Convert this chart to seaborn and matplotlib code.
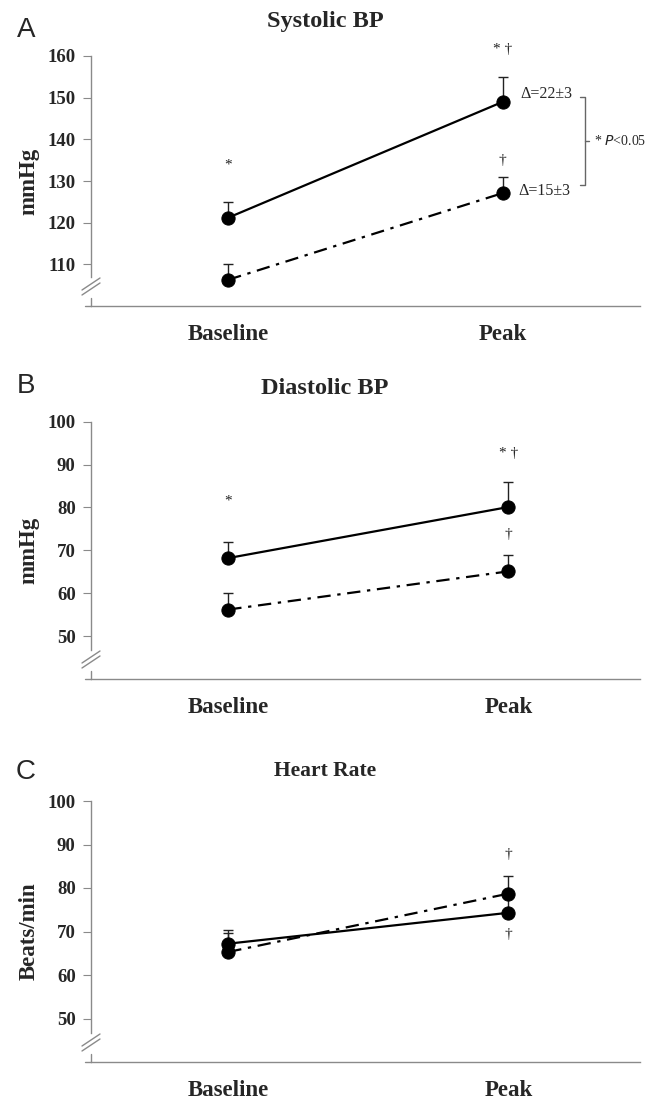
import numpy as np
import pandas as pd
import matplotlib
matplotlib.use("Agg")
import matplotlib.pyplot as plt
import seaborn as sns
from matplotlib.transforms import blended_transform_factory

# ---------------- data ----------------
time_points = ["Baseline", "Peak"]
group_names = ["Group 1", "Group 2"]          # Group 1: solid, Group 2: dash-dot

sbp_g1 = [121.2, 149.0]
sbp_g1_err = [3.8, 6.0]
sbp_g2 = [106.3, 127.1]
sbp_g2_err = [3.7, 3.9]

dbp_g1 = [68.2, 80.1]
dbp_g1_err = [3.8, 5.9]
dbp_g2 = [56.2, 65.1]
dbp_g2_err = [3.8, 3.9]

hr_g1 = [67.2, 74.3]
hr_g1_err = [3.2, 4.0]
hr_g2 = [65.3, 78.7]
hr_g2_err = [4.4, 4.1]

panel_letters = ["A", "B", "C"]
panel_titles = ["Systolic BP", "Diastolic BP", "Heart Rate"]
panel_ylabels = ["mmHg", "mmHg", "Beats/min"]
sbp_ticks = [110, 120, 130, 140, 150, 160]
dbp_ticks = [50, 60, 70, 80, 90, 100]
hr_ticks = [50, 60, 70, 80, 90, 100]

# ---------------- style ----------------
sns.set_style("white")
plt.rcParams["font.family"] = ["Liberation Serif", "DejaVu Serif"]
plt.rcParams["mathtext.fontset"] = "custom"

fig = plt.figure(figsize=(6.47, 11.01), dpi=100)
W, H = 647, 1101

def add_axes_px(left, top, right, bottom):
    return fig.add_axes([left / W, 1 - bottom / H, (right - left) / W, (bottom - top) / H])

axes_px = [
    (91, 56, 640, 306),
    (91, 421.7, 640, 679),
    (91, 801, 640, 1062),
]
ylims = [(100, 160), (40, 100), (40, 100)]
yticks_all = [sbp_ticks, dbp_ticks, hr_ticks]
xlims = [(-0.5, 1.5), (-0.49, 1.47), (-0.49, 1.47)]
title_sizes = [17.5, 17.5, 15.5]
letter_y = [30, 386, 772]
title_y = [22, 388, 771]

datasets = [
    (sbp_g1, sbp_g1_err, sbp_g2, sbp_g2_err),
    (dbp_g1, dbp_g1_err, dbp_g2, dbp_g2_err),
    (hr_g1, hr_g1_err, hr_g2, hr_g2_err),
]

axis_grey = "#8a8a8a"
dashdot = (6, 3, 1.5, 3)

axes = []
for i in range(3):
    ax = add_axes_px(*axes_px[i])
    axes.append(ax)
    g1, e1, g2, e2 = datasets[i]
    df = pd.DataFrame({
        "time": [0, 1, 0, 1],
        "value": list(g1) + list(g2),
        "group": [group_names[0]] * 2 + [group_names[1]] * 2,
    })
    # error bars (upward only)
    for vals, errs in ((g1, e1), (g2, e2)):
        ax.errorbar([0, 1], vals, yerr=[[0, 0], errs], fmt="none",
                    ecolor="#222222", elinewidth=1.0, capsize=3.5, capthick=1.0, zorder=2)
    sns.lineplot(data=df, x="time", y="value", hue="group", style="group",
                 palette=["black", "black"], dashes={group_names[0]: "", group_names[1]: dashdot},
                 markers={group_names[0]: "o", group_names[1]: "o"},
                 markersize=9.5, markeredgecolor="black", linewidth=1.6,
                 legend=False, ax=ax, zorder=3)
    ymin, ymax = ylims[i]
    ax.set_ylim(ymin, ymax)
    ax.set_xlim(*xlims[i])
    ax.set_yticks(yticks_all[i])
    ax.set_yticklabels([str(t) for t in yticks_all[i]], fontsize=13.5, fontweight="bold")
    ax.set_xticks([0, 1])
    ax.set_xticklabels(time_points, fontsize=16.5, fontweight="bold")
    ax.set_xlabel("")
    ax.set_ylabel(panel_ylabels[i], fontsize=16.5, fontweight="bold", labelpad=6)
    for s in ("top", "right"):
        ax.spines[s].set_visible(False)
    for s in ("left", "bottom"):
        ax.spines[s].set_color(axis_grey)
        ax.spines[s].set_linewidth(1.0)
    ax.tick_params(axis="x", direction="in", length=6, color=axis_grey, pad=13)
    ax.tick_params(axis="y", direction="out", length=6, color=axis_grey, pad=5, left=True)
    ax.grid(False)

    # axis break on y axis
    ppu = (axes_px[i][3] - axes_px[i][1]) / (ymax - ymin)   # pixels per unit
    ax.spines["left"].set_bounds(ymin + 29 / ppu, ymax)
    trans = blended_transform_factory(ax.transAxes, ax.transData)
    ax.plot([0, 0], [ymin, ymin + 8 / ppu], transform=trans, color=axis_grey, lw=1.0, clip_on=False)
    dxa = 9 / (axes_px[i][2] - axes_px[i][0])
    for c in (17 / ppu, 22 / ppu):
        ax.plot([-dxa, dxa], [ymin + c - 6 / ppu, ymin + c + 6 / ppu], transform=trans,
                color=axis_grey, lw=1.0, clip_on=False)
    # x axis extends slightly left of y axis
    ax.plot([-6 / (axes_px[i][2] - axes_px[i][0]), 0], [0, 0], transform=ax.transAxes,
            color=axis_grey, lw=1.0, clip_on=False)

    # panel letter and title
    fig.text(26 / W, 1 - letter_y[i] / H, panel_letters[i], fontsize=20,
             family=["Liberation Sans", "DejaVu Sans"], ha="center", va="center")
    fig.text(325 / W, 1 - title_y[i] / H, panel_titles[i], fontsize=title_sizes[i],
             fontweight="bold", ha="center", va="center")

ann = dict(ha="center", va="center", fontsize=11, clip_on=False, color="#222222")
# Panel A annotations
axA, axB, axC = axes
axA.text(0, 133.8, "*", **ann)
axA.text(1, 161.5, "* \u2020", **ann)
axA.text(1, 135.0, "\u2020", **ann)
axA.text(1.065, 150.9, "\u0394=22\u00b13", ha="left", va="center", fontsize=11.5, clip_on=False)
axA.text(1.058, 127.5, "\u0394=15\u00b13", ha="left", va="center", fontsize=11.5, clip_on=False)
bx, bl, br = 1.30, 1.281, 1.314
axA.plot([bl, bx, bx, bl], [150.1, 150.1, 129.0, 129.0], color="#666666", lw=1.0, clip_on=False)
axA.plot([bx, br], [139.6, 139.6], color="#666666", lw=1.0, clip_on=False)
axA.text(1.333, 139.6, "* $\\it{P}$<0.05", ha="left", va="center", fontsize=10, clip_on=False)

# Panel B annotations
axB.text(0, 81.5, "*", **ann)
axB.text(1, 92.7, "* \u2020", **ann)
axB.text(1, 73.8, "\u2020", **ann)

# Panel C annotations
axC.text(1, 87.8, "\u2020", **ann)
axC.text(1, 69.2, "\u2020", **ann)

fig.savefig("out.png", dpi=100)
